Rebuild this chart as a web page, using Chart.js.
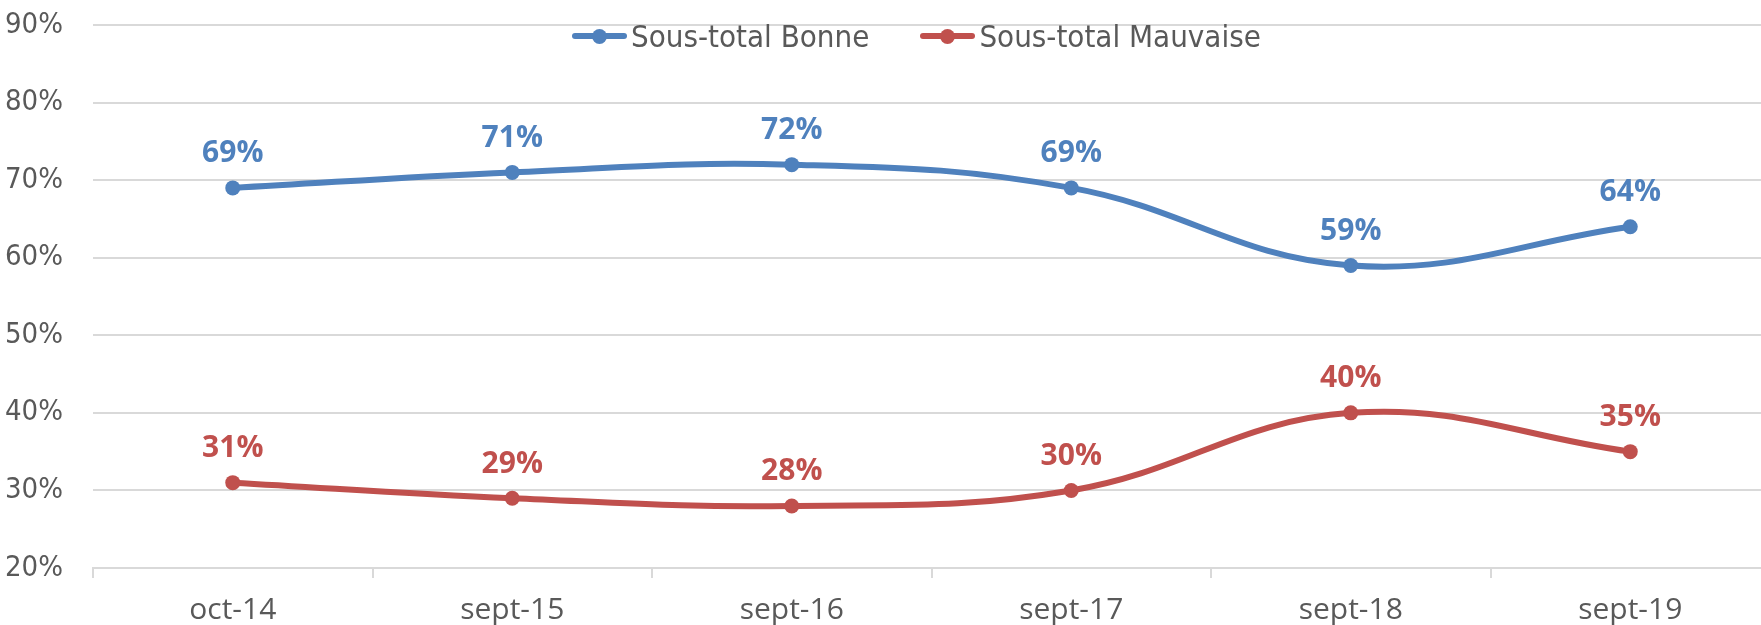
<!DOCTYPE html>
<html>
<head>
<meta charset="utf-8">
<title>Sous-total Bonne / Mauvaise</title>
<script src="https://cdn.jsdelivr.net/npm/chart.js@4"></script>
<style>
  html, body { margin: 0; padding: 0; background: #fff; overflow: hidden; }
  #wrap { position: relative; width: 1780px; height: 625px; }
  #legend {
    position: absolute; top: 18px; left: 572px;
    display: flex; align-items: center;
    font-family: "DejaVu Sans Condensed", sans-serif;
    font-size: 31px; color: #595959; line-height: 36px;
  }
  .item { display: flex; align-items: center; margin-right: 51px; }
  .mark { position: relative; width: 55px; height: 15px; margin-right: 4px; }
  .mark::before { content: ""; position: absolute; left: 0; right: 0; top: 4.5px; height: 6px; border-radius: 3px; background: var(--c); }
  .mark::after { content: ""; position: absolute; left: 20px; top: 0; width: 15px; height: 15px; border-radius: 50%; background: var(--c); }
</style>
</head>
<body>
<div id="wrap">
  <canvas id="chart" width="1780" height="625"></canvas>
  <div id="legend"></div>
</div>
<script>
// data
const categories = ["oct-14", "sept-15", "sept-16", "sept-17", "sept-18", "sept-19"];
const bonne = [69, 71, 72, 69, 59, 64];
const mauvaise = [31, 29, 28, 30, 40, 35];
const yTicks = [20, 30, 40, 50, 60, 70, 80, 90];
const seriesNames = ["Sous-total Bonne", "Sous-total Mauvaise"];
const seriesColors = ["#4f81bd", "#c0504d"];

const gridColor = "#d9d9d9";
const textColor = "#595959";

// value labels above each point
const pointLabels = {
  id: "pointLabels",
  afterDatasetsDraw(chart) {
    const ctx = chart.ctx;
    ctx.save();
    ctx.font = "bold 30px 'Open Sans'";
    ctx.textAlign = "center";
    ctx.textBaseline = "middle";
    chart.data.datasets.forEach((ds, i) => {
      ctx.fillStyle = ds.borderColor;
      chart.getDatasetMeta(i).data.forEach((pt, j) => {
        ctx.fillText(ds.data[j] + "%", pt.x, pt.y - 34);
      });
    });
    ctx.restore();
  }
};

function makeDataset(name, values, color) {
  return {
    label: name,
    data: values,
    borderColor: color,
    backgroundColor: color,
    borderWidth: 6,
    pointRadius: 7.5,
    pointHoverRadius: 7.5,
    pointBackgroundColor: color,
    pointBorderWidth: 0,
    tension: 0.4,
    fill: false
  };
}

new Chart(document.getElementById("chart"), {
  type: "line",
  data: {
    labels: categories,
    datasets: [
      makeDataset(seriesNames[0], bonne, seriesColors[0]),
      makeDataset(seriesNames[1], mauvaise, seriesColors[1])
    ]
  },
  options: {
    responsive: false,
    animation: false,
    devicePixelRatio: 1,
    layout: { autoPadding: false, padding: { top: 25, right: 10, bottom: 0, left: 0 } },
    plugins: { legend: { display: false }, tooltip: { enabled: false } },
    scales: {
      x: {
        offset: true,
        grid: { offset: true, drawOnChartArea: false, color: gridColor, lineWidth: 2, tickLength: 10 },
        border: { color: gridColor, width: 2 },
        ticks: { color: textColor, padding: 14, font: { family: "'Open Sans'", size: 30 }, maxRotation: 0 },
        afterFit: s => { s.height = 57; s.paddingLeft = 0; s.paddingRight = 0; }
      },
      y: {
        min: 20,
        max: 90,
        grid: { color: gridColor, lineWidth: 2, drawTicks: false },
        border: { display: false },
        ticks: {
          color: textColor, padding: 30,
          font: { family: "'DejaVu Sans Condensed', sans-serif", size: 29 },
          callback: v => v + "%"
        },
        afterBuildTicks: s => { s.ticks = yTicks.map(v => ({ value: v })); },
        afterFit: s => { s.width = 93; s.paddingTop = 0; s.paddingBottom = 0; }
      }
    }
  },
  plugins: [pointLabels]
});

// legend
const legend = document.getElementById("legend");
seriesNames.forEach((name, i) => {
  const item = document.createElement("div");
  item.className = "item";
  const mark = document.createElement("span");
  mark.className = "mark";
  mark.style.setProperty("--c", seriesColors[i]);
  const txt = document.createElement("span");
  txt.textContent = name;
  item.appendChild(mark);
  item.appendChild(txt);
  legend.appendChild(item);
});
</script>
</body>
</html>
